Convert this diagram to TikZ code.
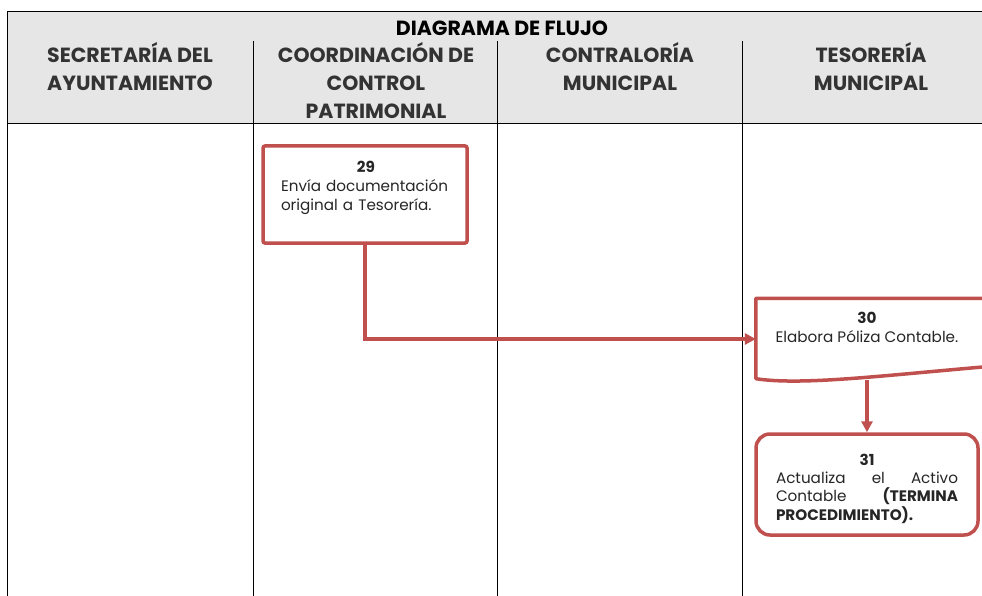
\documentclass[tikz,border=0pt]{standalone}
\usepackage{fontspec}
\setmainfont{Poppins}
\usetikzlibrary{positioning,calc,arrows.meta}
\definecolor{flowred}{RGB}{192,80,77}
\definecolor{hdrgray}{RGB}{230,230,230}

\begin{document}
\begin{tikzpicture}[x=1pt, y=-1pt,
        lane/.style={font=\bfseries\fontsize{20.5}{28}\selectfont, text=black!80, align=center, inner sep=0pt},
        proc/.style={draw=flowred, line width=3.5pt, fill=white},
        txt/.style={font=\fontsize{15.2}{19}\selectfont, text=black!85, inner sep=0pt},
        flow/.style={draw=flowred, line width=3.5pt, -{Triangle[length=11pt,width=11pt]}}]
    \useasboundingbox (0,0) rectangle (982,596);
    \clip (0,0) rectangle (982,596);
    % encabezado
    \fill[hdrgray] (7,12) rectangle (995,124);
    \draw[line width=1pt] (995,12) -- (7,12) -- (7,600);
    \draw[line width=1pt] (7,124) -- (995,124);
    \foreach \x in {253,497,742}
        \draw[line width=0.9pt] (\x,41) -- (\x,600);
    \node[lane, text=black, anchor=north] (titulo) at (502,21) {DIAGRAMA DE FLUJO};
    \node[lane, anchor=north] (secretaria) at (130,42) {SECRETARÍA DEL\\AYUNTAMIENTO};
    \node[lane, anchor=north] (coordinacion) at (376,42) {COORDINACIÓN DE\\CONTROL\\PATRIMONIAL};
    \node[lane, anchor=north] (contraloria) at (620,42) {CONTRALORÍA\\MUNICIPAL};
    \node[lane, anchor=north] (tesoreria) at (871,42) {TESORERÍA\\MUNICIPAL};
    % pasos
    \node[proc, rounded corners=2pt, minimum width=204pt, minimum height=97pt] (p29) at (365,194.5) {};
    \node[txt, text width=170pt, align=left, anchor=north] (t29) at ($(p29.north)+(1,16.5)$)
        {{\centering\textbf{29}\par}Envía documentación\\original a Tesorería.};
    \node[inner sep=0pt, minimum width=230pt, minimum height=81pt] (p30) at (871,339) {};
    \draw[proc, line join=round] (p30.north west) -- (p30.north east) -- ($(p30.south east)+(0,-13)$)
        .. controls ($(p30.south)+(10,-4)$) and ($(p30.south west)+(45,6)$) .. ($(p30.south west)+(0,-1)$) -- cycle;
    \node[txt, align=center, anchor=north] (t30) at ($(p30.north)+(-4,14)$) {\textbf{30}\\Elabora Póliza Contable.};
    \node[proc, rounded corners=14pt, minimum width=222pt, minimum height=101pt] (p31) at (867,484.5) {};
    \node[txt, font=\fontsize{15.2}{18.3}\selectfont, text width=182pt, align=justify] (t31) at ($(p31.center)+(0,4)$)
        {{\centering\textbf{31}\par}Actualiza el Activo\linebreak Contable \textbf{(TERMINA}\linebreak\textbf{PROCEDIMIENTO).}};
    \draw[flow] (p29.south) |- (p30.west);
    \draw[flow] (p30.south -| p31.north) -- (p31.north);
\end{tikzpicture}
\end{document}
